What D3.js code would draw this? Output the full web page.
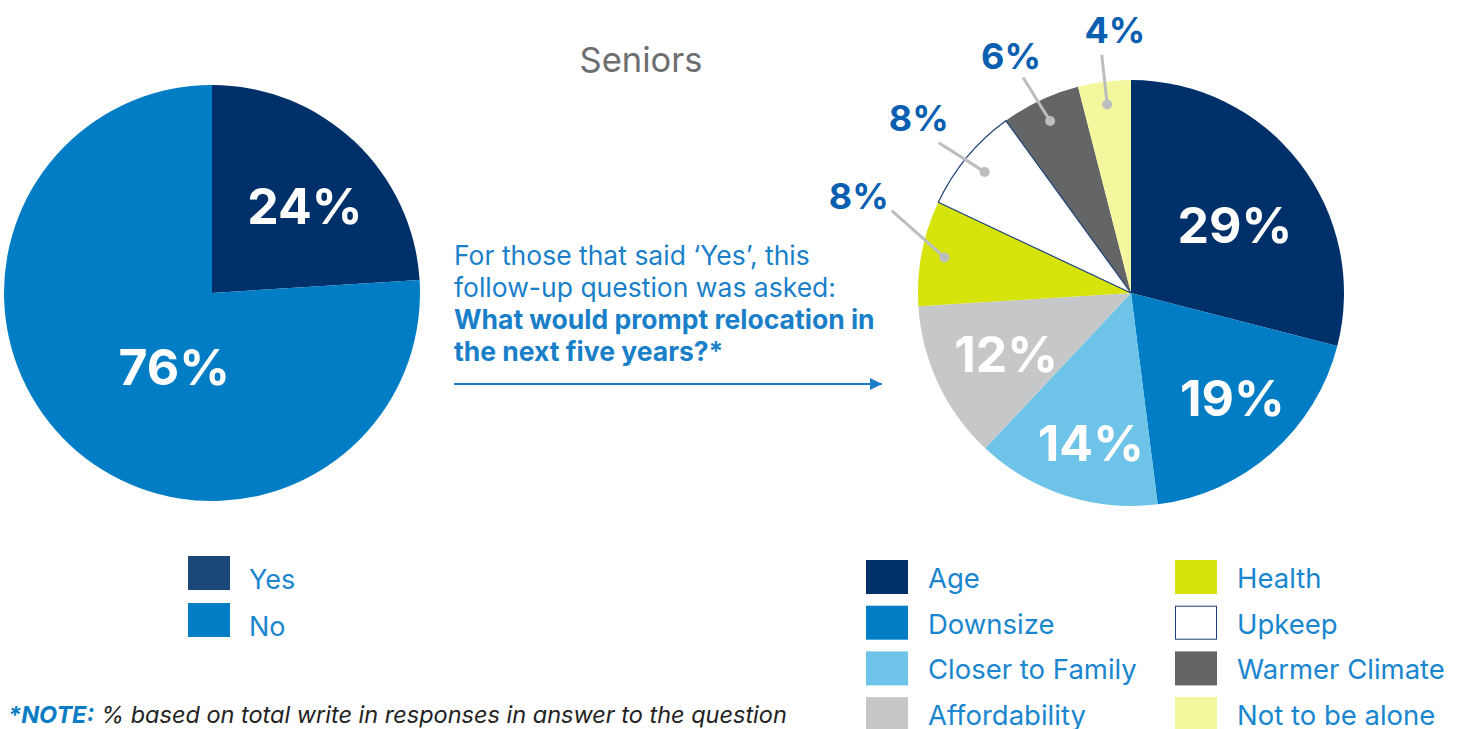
<!DOCTYPE html>
<html>
<head>
<meta charset="utf-8" />
<script src="https://d3js.org/d3.v7.min.js"></script>
<style>
  body { margin: 0; background: #fff; }
  svg text { font-family: Inter, "Open Sans", sans-serif; }
</style>
</head>
<body>
<div id="chart"></div>
<script>
// ---- data ----
var yesNoLabels = ["Yes", "No"];
var yesNoValues = [24, 76];
var yesNoColors = ["#003069", "#007dc5"];
var yesNoLegendColors = ["#1b4878", "#007dc5"];

var reasonLabels = ["Age", "Downsize", "Closer to Family", "Affordability",
                    "Health", "Upkeep", "Warmer Climate", "Not to be alone"];
var reasonValues = [29, 19, 14, 12, 8, 8, 6, 4];
var reasonColors = ["#003069", "#007dc5", "#6ec4e8", "#c6c7c9",
                    "#d7e40c", "#ffffff", "#646567", "#f3f79d"];

// label layout: [angle in degrees from 12 o'clock, radius] (null = outside with leader)
var yesNoLabelPos = [[47, 127], [207, 83]];
var reasonLabelPos = [[57, 124], [136, 146], [195, 155], [244, 139], null, null, null, null];
// outside labels: leader end [angle, r], text [angle, r]
var outsideLayout = {
  4: { line: [-71, 253], text: [-70.4, 289] },
  5: { line: [-52, 244], text: [-50.5, 275] },
  6: { line: [-26.6, 241], text: [-26.8, 266] },
  7: { line: [-7, 240], text: [-3.5, 263] }
};

var width = 1462, height = 729;
var svg = d3.select("#chart").append("svg")
  .attr("width", width).attr("height", height);

function polar(deg, r) {
  var a = deg * Math.PI / 180;
  return [Math.sin(a) * r, -Math.cos(a) * r];
}

var pie = d3.pie().sort(null);

// ---- left pie ----
var leftR = 208;
var gl = svg.append("g").attr("transform", "translate(212,293)");
var arcL = d3.arc().innerRadius(0).outerRadius(leftR);
gl.selectAll("path")
  .data(pie(yesNoValues))
  .enter().append("path")
    .attr("d", arcL)
    .attr("fill", function(d, i) { return yesNoColors[i]; });
gl.selectAll("text")
  .data(yesNoValues)
  .enter().append("text")
    .attr("x", function(d, i) { return polar(yesNoLabelPos[i][0], yesNoLabelPos[i][1])[0]; })
    .attr("y", function(d, i) { return polar(yesNoLabelPos[i][0], yesNoLabelPos[i][1])[1]; })
    .attr("dy", "0.36em")
    .attr("text-anchor", "middle")
    .attr("fill", "#fff")
    .attr("font-weight", 700)
    .attr("font-size", 50)
    .text(function(d) { return d + "%"; });

// ---- title ----
svg.append("text")
  .attr("x", 641).attr("y", 72)
  .attr("text-anchor", "middle")
  .attr("font-size", 34.5)
  .attr("fill", "#6d6e70")
  .text("Seniors");

// ---- annotation ----
var annLines = [
  { t: "For those that said \u2018Yes\u2019, this", b: false },
  { t: "follow-up question was asked:", b: false },
  { t: "What would prompt relocation in", b: true },
  { t: "the next five years?*", b: true }
];
svg.selectAll("text.ann")
  .data(annLines)
  .enter().append("text")
    .attr("class", "ann")
    .attr("x", 454)
    .attr("y", function(d, i) { return 265 + i * 32; })
    .attr("font-size", 26.5)
    .attr("font-weight", function(d) { return d.b ? 700 : 400; })
    .attr("fill", "#1a7fc9")
    .text(function(d) { return d.t; });

svg.append("defs").append("marker")
  .attr("id", "arrow")
  .attr("viewBox", "0 0 10 10")
  .attr("refX", 10).attr("refY", 5)
  .attr("markerWidth", 8).attr("markerHeight", 6)
  .attr("markerUnits", "strokeWidth")
  .attr("orient", "auto")
  .append("path").attr("d", "M0,0 L10,5 L0,10 Z").attr("fill", "#1a7fc9");
svg.append("line")
  .attr("x1", 454).attr("x2", 882)
  .attr("y1", 384).attr("y2", 384)
  .attr("stroke", "#1a7fc9").attr("stroke-width", 2)
  .attr("marker-end", "url(#arrow)");

// ---- right pie ----
var rightR = 213;
var gr = svg.append("g").attr("transform", "translate(1131,293)");
var arcR = d3.arc().innerRadius(0).outerRadius(rightR);
var rData = pie(reasonValues);
gr.selectAll("path")
  .data(rData)
  .enter().append("path")
    .attr("d", arcR)
    .attr("fill", function(d, i) { return reasonColors[i]; });
// upkeep redrawn on top with its outline
gr.append("path")
  .datum(rData[5])
  .attr("d", arcR)
  .attr("fill", "#fff")
  .attr("stroke", "#1b3f75")
  .attr("stroke-width", 1.2);

gr.selectAll("text.in")
  .data(reasonValues)
  .enter().filter(function(d, i) { return reasonLabelPos[i] !== null; })
  .append("text")
    .attr("class", "in")
    .attr("x", function(d, i) { return polar(reasonLabelPos[i][0], reasonLabelPos[i][1])[0]; })
    .attr("y", function(d, i) { return polar(reasonLabelPos[i][0], reasonLabelPos[i][1])[1]; })
    .attr("dy", "0.36em")
    .attr("text-anchor", "middle")
    .attr("fill", "#fff")
    .attr("font-weight", 700)
    .attr("font-size", 50)
    .text(function(d) { return d + "%"; });

// outside labels with leaders
var dotArc = d3.arc().innerRadius(190).outerRadius(190);
Object.keys(outsideLayout).forEach(function(k) {
  var i = +k, lay = outsideLayout[k];
  var c = dotArc.centroid(rData[i]);
  var e = polar(lay.line[0], lay.line[1]);
  var t = polar(lay.text[0], lay.text[1]);
  gr.append("line")
    .attr("x1", c[0]).attr("y1", c[1])
    .attr("x2", e[0]).attr("y2", e[1])
    .attr("stroke", "#bcbdbf").attr("stroke-width", 3);
  gr.append("circle")
    .attr("cx", c[0]).attr("cy", c[1]).attr("r", 5)
    .attr("fill", "#bcbdbf");
  gr.append("text")
    .attr("x", t[0]).attr("y", t[1])
    .attr("dy", "0.36em")
    .attr("text-anchor", "middle")
    .attr("fill", "#0a5fb0")
    .attr("font-weight", 700)
    .attr("font-size", 36)
    .text(reasonValues[i] + "%");
});

// ---- legends ----
var legL = svg.selectAll("g.legL")
  .data(yesNoLabels)
  .enter().append("g")
    .attr("class", "legL")
    .attr("transform", function(d, i) { return "translate(188," + (556 + i * 47) + ")"; });
legL.append("rect")
  .attr("width", 42).attr("height", 34)
  .attr("fill", function(d, i) { return yesNoLegendColors[i]; });
legL.append("text")
  .attr("x", 61).attr("y", 33)
  .attr("font-size", 27)
  .attr("fill", "#1a86cf")
  .text(function(d) { return d; });

var legR = svg.selectAll("g.legR")
  .data(reasonLabels)
  .enter().append("g")
    .attr("class", "legR")
    .attr("transform", function(d, i) {
      var col = Math.floor(i / 4), row = i % 4;
      return "translate(" + (866 + col * 309) + "," + (560 + row * 45.7) + ")";
    });
legR.append("rect")
  .attr("x", function(d, i) { return i === 5 ? 0.5 : 0; })
  .attr("y", function(d, i) { return i === 5 ? 0.5 : 0; })
  .attr("width", function(d, i) { return i === 5 ? 41 : 42; })
  .attr("height", function(d, i) { return i === 5 ? 33 : 34; })
  .attr("fill", function(d, i) { return reasonColors[i]; })
  .attr("stroke", function(d, i) { return i === 5 ? "#1b3f75" : "none"; });
legR.append("text")
  .attr("x", 62).attr("y", 28)
  .attr("font-size", 27.5)
  .attr("fill", "#1a86cf")
  .text(function(d) { return d; });

// ---- note ----
var note = svg.append("text")
  .attr("x", 8).attr("y", 723)
  .attr("font-size", 23.5)
  .attr("font-style", "italic");
note.append("tspan").attr("font-weight", 700).attr("fill", "#0a7cc4").text("*NOTE:");
note.append("tspan").attr("fill", "#222").text(" % based on total write in responses in answer to the question");
</script>
</body>
</html>
